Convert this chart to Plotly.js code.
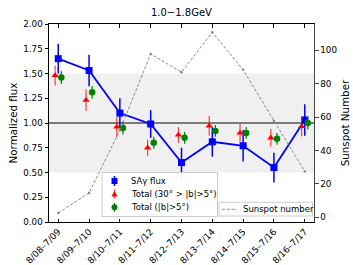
<!DOCTYPE html>
<html>
<head>
<meta charset="utf-8">
<script src="https://cdn.plot.ly/plotly-3.0.1.min.js"></script>
<style>html,body{margin:0;padding:0;background:#fff;}#chart{width:353px;height:265px;}</style>
</head>
<body>
<div id="chart"></div>
<script>
const periods = ["8/08–7/09","8/09–7/10","8/10–7/11","8/11–7/12","8/12–7/13","8/13–7/14","8/14–7/15","8/15–7/16","8/16–7/17"];
const sayFlux = [1.65, 1.53, 1.10, 0.99, 0.60, 0.81, 0.77, 0.55, 1.03];
const sayErr  = [0.15, 0.16, 0.15, 0.14, 0.15, 0.15, 0.16, 0.15, 0.16];
const total30 = [1.48, 1.23, 0.96, 0.75, 0.88, 0.97, 0.90, 0.85, 0.965];
const total30Err = [0.10, 0.11, 0.10, 0.08, 0.08, 0.10, 0.09, 0.09, 0.10];
const totalAll = [1.46, 1.31, 0.95, 0.80, 0.85, 0.92, 0.90, 0.84, 1.00];
const totalAllErr = [0.065, 0.065, 0.065, 0.06, 0.06, 0.06, 0.06, 0.06, 0.065];
const sunspot = [2.5, 14.5, 52, 97.8, 86.9, 110.8, 88.3, 57.7, 27.4];
const seriesNames = ['SAγ flux', 'Total (30° > |b|>5°)', 'Total (|b|>5°)', 'Sunspot number'];

const idx = periods.map((_, i) => i);
const font = "DejaVu Sans, sans-serif";
const W = 353, H = 265, ML = 49, MR = 39, MT = 24, MB = 43;
const PW = W - ML - MR, PH = H - MT - MB;
const px = v => (v - ML) / PW;           // pixel x -> paper
const py = v => (H - MB - v) / PH;       // pixel y -> paper
const legFont = 8.5;

const traces = [
  {x: idx, y: sunspot, yaxis: 'y2', mode: 'lines', line: {color: '#888888', width: 1, dash: '3px,1.8px'},
   name: seriesNames[3], showlegend: false, hoverinfo: 'skip'},
  {x: idx, y: sunspot, yaxis: 'y2', mode: 'markers', marker: {color: '#888888', size: 2.5},
   showlegend: false, hoverinfo: 'skip'},
  {x: idx, y: sayFlux, mode: 'lines', line: {color: '#0000ff', width: 1.8}, showlegend: false},
  {x: idx, y: sayFlux, mode: 'markers', name: seriesNames[0], showlegend: false,
   marker: {symbol: 'square', color: '#0000ff', size: 7},
   error_y: {type: 'data', array: sayErr, color: '#0000ff', thickness: 1.5, width: 0}},
  {x: idx.map(i => i - 0.1), y: total30, mode: 'markers', name: seriesNames[1], showlegend: false,
   marker: {symbol: 'triangle-up', color: '#ff0000', size: 6.5},
   error_y: {type: 'data', array: total30Err, color: 'rgba(255,0,0,0.75)', thickness: 1.2, width: 0}},
  {x: idx.map(i => i + 0.1), y: totalAll, mode: 'markers', name: seriesNames[2], showlegend: false,
   marker: {symbol: 'circle', color: '#008000', size: 6.5},
   error_y: {type: 'data', array: totalAllErr, color: '#008000', thickness: 1.2, width: 0}}
];

// ---- legend (drawn as shapes + annotations to match compact matplotlib legend) ----
const shapes = [
  {type: 'rect', xref: 'paper', yref: 'y', x0: 0, x1: 1, y0: 0.5, y1: 1.5,
   fillcolor: '#f0f0f0', line: {width: 0}, layer: 'below'},
  {type: 'line', xref: 'paper', yref: 'y', x0: 0, x1: 1, y0: 1, y1: 1,
   line: {color: '#555555', width: 1.5}, layer: 'below'},
  {type: 'rect', xref: 'paper', yref: 'paper', x0: px(102), x1: px(217.5), y0: py(216.5), y1: py(172.5),
   fillcolor: 'rgba(255,255,255,0.85)', line: {color: '#cccccc', width: 1}, layer: 'above'},
  {type: 'rect', xref: 'paper', yref: 'paper', x0: px(219), x1: px(312.5), y0: py(216), y1: py(202.3),
   fillcolor: 'rgba(255,255,255,0.85)', line: {color: '#cccccc', width: 1}, layer: 'above'}
];
const annotations = [];
const legRows = [181, 194, 207.3];
const mx = 114.5;
shapes.push({type: 'line', xref: 'paper', yref: 'paper', x0: px(mx), x1: px(mx), y0: py(legRows[0] - 5), y1: py(legRows[0] + 5),
  line: {color: '#0000ff', width: 1.5}, layer: 'above'});
shapes.push({type: 'rect', xref: 'paper', yref: 'paper', x0: px(mx - 3), x1: px(mx + 3), y0: py(legRows[0] + 3), y1: py(legRows[0] - 3),
  fillcolor: '#0000ff', line: {width: 0}, layer: 'above'});
shapes.push({type: 'line', xref: 'paper', yref: 'paper', x0: px(mx), x1: px(mx), y0: py(legRows[1] - 4.5), y1: py(legRows[1] + 4.5),
  line: {color: 'rgba(255,0,0,0.75)', width: 1.2}, layer: 'above'});
shapes.push({type: 'path', xref: 'paper', yref: 'paper',
  path: `M ${px(mx)} ${py(legRows[1] - 3.3)} L ${px(mx + 3)} ${py(legRows[1] + 2.4)} L ${px(mx - 3)} ${py(legRows[1] + 2.4)} Z`,
  fillcolor: '#ff0000', line: {width: 0}, layer: 'above'});
shapes.push({type: 'line', xref: 'paper', yref: 'paper', x0: px(mx), x1: px(mx), y0: py(legRows[2] - 4.5), y1: py(legRows[2] + 4.5),
  line: {color: '#008000', width: 1.2}, layer: 'above'});
shapes.push({type: 'circle', xref: 'paper', yref: 'paper', x0: px(mx - 3), x1: px(mx + 3), y0: py(legRows[2] + 3), y1: py(legRows[2] - 3),
  fillcolor: '#008000', line: {width: 0}, layer: 'above'});
shapes.push({type: 'line', xref: 'paper', yref: 'paper', x0: px(222), x1: px(237), y0: py(209.3), y1: py(209.3),
  line: {color: '#888888', width: 1, dash: '3px,1.8px'}, layer: 'above'});

[0, 1, 2].forEach(i => annotations.push({
  xref: 'paper', yref: 'paper', x: px(128.5), y: py(legRows[i]), xanchor: 'left', yanchor: 'middle',
  text: seriesNames[i], showarrow: false, font: {family: font, size: legFont, color: '#000'}
}));
annotations.push({
  xref: 'paper', yref: 'paper', x: px(241), y: py(209.3), xanchor: 'left', yanchor: 'middle',
  text: seriesNames[3], showarrow: false, font: {family: font, size: legFont, color: '#000'}
});

const layout = {
  width: W, height: H,
  margin: {l: ML, r: MR, t: MT, b: MB, pad: 0},
  paper_bgcolor: '#ffffff', plot_bgcolor: '#ffffff',
  font: {family: font, size: 8.5, color: '#000'},
  showlegend: false,
  title: {text: '1.0−1.8GeV', font: {family: font, size: 10, color: '#000'}, x: 0.514, xanchor: 'center', y: 0.952, yanchor: 'middle'},
  xaxis: {
    range: [-0.3, 8.3], tickvals: idx, ticktext: periods, tickangle: -45,
    ticks: 'inside', ticklen: 3.5, tickcolor: '#000', mirror: 'ticks',
    showline: true, linecolor: '#000', linewidth: 1, showgrid: false, zeroline: false,
    tickfont: {family: font, size: 9}
  },
  yaxis: {
    range: [0, 2.0], tickvals: [0, 0.25, 0.5, 0.75, 1.0, 1.25, 1.5, 1.75, 2.0], tickformat: '.2f',
    ticks: 'outside', ticklen: 3.5, tickcolor: '#000', showline: true, linecolor: '#000', linewidth: 1,
    showgrid: false, zeroline: false, tickfont: {family: font, size: 8.8},
    title: {text: 'Normalized flux', font: {family: font, size: 10.3}, standoff: 3}
  },
  yaxis2: {
    overlaying: 'y', side: 'right', range: [-2.9, 115.8], tickvals: [0, 20, 40, 60, 80, 100],
    ticks: 'outside', ticklen: 3.5, tickcolor: '#444', showline: true, linecolor: '#444', linewidth: 1,
    showgrid: false, zeroline: false, tickfont: {family: font, size: 8.8},
    title: {text: 'Sunspot Number', font: {family: font, size: 10.3}, standoff: 5}
  },
  shapes: shapes,
  annotations: annotations
};

Plotly.newPlot('chart', traces, layout, {staticPlot: true, displayModeBar: false});
</script>
</body>
</html>
